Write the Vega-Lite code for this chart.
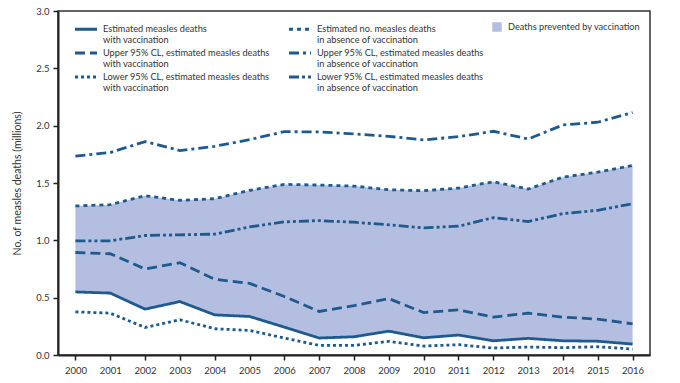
{
  "$schema": "https://vega.github.io/schema/vega-lite/v6.json",
  "autosize": "none",
  "width": 592,
  "height": 344,
  "padding": {"left": 58, "top": 11, "right": 30, "bottom": 28},
  "background": "white",
  "config": {
    "font": "Lato",
    "view": {"stroke": "#333", "strokeWidth": 1.5},
    "axis": {"grid": false, "domainColor": "#222", "domainWidth": 2, "tickColor": "#222", "tickWidth": 1.5, "tickSize": 5, "labelColor": "#333", "labelFontSize": 9.5, "labelFont": "Lato", "titleFont": "Lato", "titleColor": "#333", "titleFontWeight": "normal", "titleFontSize": 10.5},
    "axisX": {"labelOverlap": false, "labelSeparation": 0}
  },
  "data": {"values": [
    {"year": 2000, "est_vac": 0.55, "upper_vac": 0.894, "lower_vac": 0.376, "est_novac": 1.30, "upper_novac": 1.734, "lower_novac": 0.996},
    {"year": 2001, "est_vac": 0.54, "upper_vac": 0.883, "lower_vac": 0.365, "est_novac": 1.311, "upper_novac": 1.766, "lower_novac": 0.996},
    {"year": 2002, "est_vac": 0.40, "upper_vac": 0.75, "lower_vac": 0.24, "est_novac": 1.389, "upper_novac": 1.861, "lower_novac": 1.042},
    {"year": 2003, "est_vac": 0.466, "upper_vac": 0.805, "lower_vac": 0.307, "est_novac": 1.349, "upper_novac": 1.783, "lower_novac": 1.048},
    {"year": 2004, "est_vac": 0.35, "upper_vac": 0.66, "lower_vac": 0.229, "est_novac": 1.363, "upper_novac": 1.82, "lower_novac": 1.054},
    {"year": 2005, "est_vac": 0.336, "upper_vac": 0.625, "lower_vac": 0.214, "est_novac": 1.436, "upper_novac": 1.878, "lower_novac": 1.117},
    {"year": 2006, "est_vac": 0.243, "upper_vac": 0.51, "lower_vac": 0.148, "est_novac": 1.488, "upper_novac": 1.948, "lower_novac": 1.161},
    {"year": 2007, "est_vac": 0.148, "upper_vac": 0.38, "lower_vac": 0.084, "est_novac": 1.482, "upper_novac": 1.945, "lower_novac": 1.172},
    {"year": 2008, "est_vac": 0.159, "upper_vac": 0.431, "lower_vac": 0.084, "est_novac": 1.473, "upper_novac": 1.928, "lower_novac": 1.158},
    {"year": 2009, "est_vac": 0.208, "upper_vac": 0.492, "lower_vac": 0.119, "est_novac": 1.441, "upper_novac": 1.907, "lower_novac": 1.135},
    {"year": 2010, "est_vac": 0.15, "upper_vac": 0.37, "lower_vac": 0.078, "est_novac": 1.433, "upper_novac": 1.876, "lower_novac": 1.109},
    {"year": 2011, "est_vac": 0.174, "upper_vac": 0.394, "lower_vac": 0.09, "est_novac": 1.456, "upper_novac": 1.904, "lower_novac": 1.123},
    {"year": 2012, "est_vac": 0.124, "upper_vac": 0.33, "lower_vac": 0.061, "est_novac": 1.511, "upper_novac": 1.951, "lower_novac": 1.198},
    {"year": 2013, "est_vac": 0.145, "upper_vac": 0.365, "lower_vac": 0.069, "est_novac": 1.447, "upper_novac": 1.884, "lower_novac": 1.164},
    {"year": 2014, "est_vac": 0.124, "upper_vac": 0.33, "lower_vac": 0.064, "est_novac": 1.551, "upper_novac": 2.006, "lower_novac": 1.233},
    {"year": 2015, "est_vac": 0.12, "upper_vac": 0.313, "lower_vac": 0.072, "est_novac": 1.595, "upper_novac": 2.03, "lower_novac": 1.262},
    {"year": 2016, "est_vac": 0.095, "upper_vac": 0.272, "lower_vac": 0.052, "est_novac": 1.653, "upper_novac": 2.115, "lower_novac": 1.32}
  ]},
  "encoding": {
    "x": {"field": "year", "type": "quantitative", "scale": {"domain": [1999.5, 2016.5], "nice": false, "zero": false},
          "axis": {"title": null, "values": [2000,2001,2002,2003,2004,2005,2006,2007,2008,2009,2010,2011,2012,2013,2014,2015,2016], "format": "d", "labelPadding": 5, "labelOverlap": false, "labelSeparation": 0}}
  },
  "layer": [
    {
      "mark": {"type": "area", "opacity": 1},
      "encoding": {
        "y": {"field": "est_novac", "type": "quantitative", "scale": {"domain": [0, 3], "nice": false},
              "axis": {"title": "No. of measles deaths (millions)", "values": [0, 0.5, 1, 1.5, 2, 2.5, 3], "format": ".1f", "titlePadding": 13, "labelPadding": 4}},
        "y2": {"field": "est_vac"},
        "fill": {"datum": "Deaths prevented by vaccination", "type": "nominal", "scale": {"range": ["#b3bee0"]},
                 "legend": {"orient": "none", "legendX": 434, "legendY": 11, "title": null, "symbolType": "square", "symbolSize": 90, "symbolStrokeWidth": 0, "labelFontSize": 9.2, "labelColor": "#333", "labelFont": "Lato", "labelOffset": 6}}
      }
    },
    {
      "transform": [{"fold": ["est_vac", "upper_vac", "lower_vac", "est_novac", "upper_novac", "lower_novac"], "as": ["series", "value"]}],
      "mark": {"type": "line", "color": "#1f5a8f", "strokeWidth": 2.8, "strokeCap": "butt"},
      "encoding": {
        "y": {"field": "value", "type": "quantitative"},
        "strokeDash": {"field": "series", "type": "nominal",
          "scale": {"domain": ["est_vac", "upper_vac", "lower_vac", "est_novac", "upper_novac", "lower_novac"],
                    "range": [[1, 0], [10, 5], [3, 3], [4, 4], [10, 4, 3, 4], [10, 3, 3, 3, 3, 3]]},
          "legend": {"orient": "none", "legendX": 21, "legendY": 11, "columns": 2, "columnPadding": 13, "rowPadding": 0, "title": null,
                     "symbolType": "M-2,0H2", "symbolSize": 121, "symbolStrokeWidth": 3, "symbolStrokeColor": "#1f5a8f", "symbolFillColor": "transparent",
                     "labelFontSize": 9.2, "labelColor": "#333", "labelFont": "Lato", "labelOffset": 10, "labelLimit": 300,
                     "labelExpr": "datum.label == 'est_vac' ? ['Estimated measles deaths', 'with vaccination'] : datum.label == 'est_novac' ? ['Estimated no. measles deaths', 'in absence of vaccination'] : datum.label == 'upper_vac' ? ['Upper 95% CL, estimated measles deaths', 'with vaccination'] : datum.label == 'upper_novac' ? ['Upper 95% CL, estimated measles deaths', 'in absence of vaccination'] : datum.label == 'lower_vac' ? ['Lower 95% CL, estimated measles deaths', 'with vaccination'] : ['Lower 95% CL, estimated measles deaths', 'in absence of vaccination']"}
        }
      }
    }
  ]
}
